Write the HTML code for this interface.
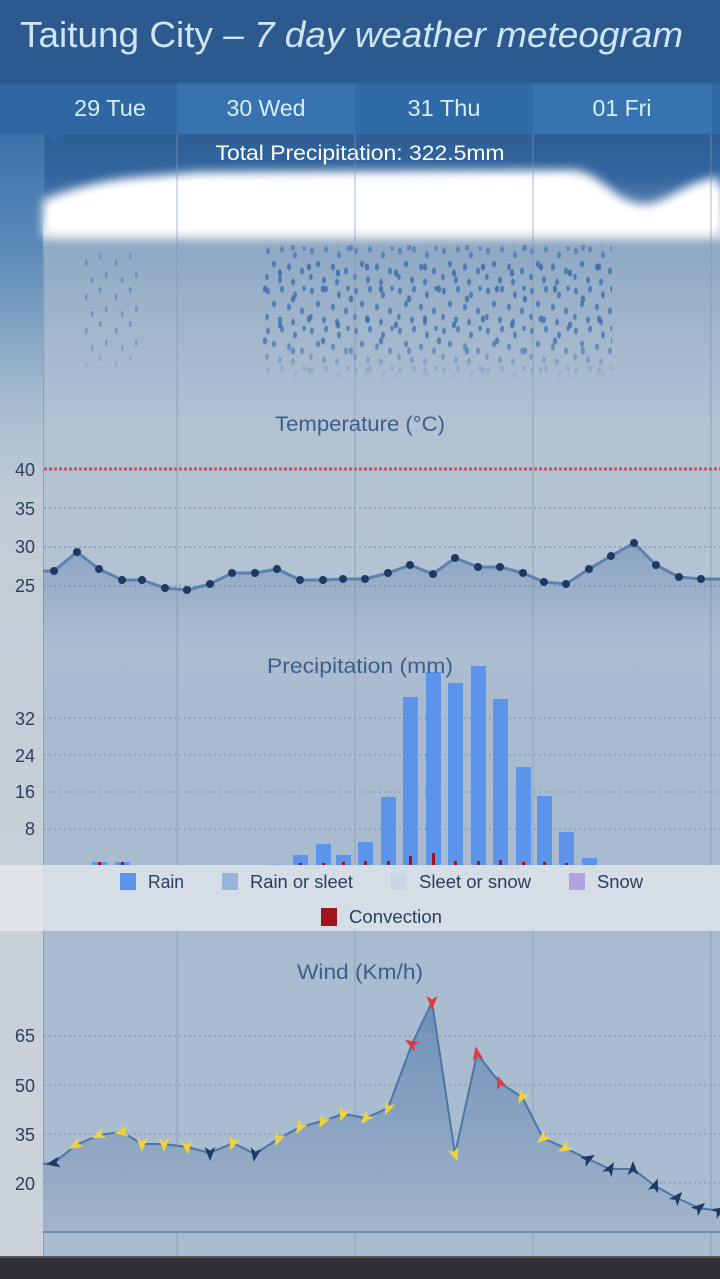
<!DOCTYPE html>
<html><head><meta charset="utf-8"><style>
html,body{margin:0;padding:0;width:720px;height:1279px;overflow:hidden;background:#2e3034}
svg{display:block}
text{font-family:"Liberation Sans",sans-serif}
</style></head><body>
<svg width="720" height="1279" viewBox="0 0 720 1279" xmlns="http://www.w3.org/2000/svg">
<defs>
<linearGradient id="leftcol" x1="0" y1="134" x2="0" y2="1256" gradientUnits="userSpaceOnUse">
<stop offset="0" stop-color="#3a70a8"/><stop offset="0.1" stop-color="#5b8ab8"/><stop offset="0.24" stop-color="#a7bccf"/><stop offset="0.33" stop-color="#c3ccd6"/><stop offset="1" stop-color="#cbd2da"/>
</linearGradient>
<linearGradient id="chartbg" x1="0" y1="134" x2="0" y2="1256" gradientUnits="userSpaceOnUse">
<stop offset="0" stop-color="#2d5e95"/><stop offset="0.04" stop-color="#3466a0"/><stop offset="0.1" stop-color="#8ea8c4"/><stop offset="0.18" stop-color="#a3b7cc"/><stop offset="0.26" stop-color="#b3c2d3"/><stop offset="0.4" stop-color="#b4c3d3"/><stop offset="0.5" stop-color="#a9bbcf"/><stop offset="1" stop-color="#aabcd0"/>
</linearGradient>
<linearGradient id="tempfill" x1="0" y1="540" x2="0" y2="650" gradientUnits="userSpaceOnUse">
<stop offset="0" stop-color="#4f78a8" stop-opacity="0.45"/><stop offset="1" stop-color="#4f78a8" stop-opacity="0"/>
</linearGradient>
<linearGradient id="windfill" x1="0" y1="1000" x2="0" y2="1232" gradientUnits="userSpaceOnUse">
<stop offset="0" stop-color="#6f8fb8"/><stop offset="1" stop-color="#a2b4ca"/>
</linearGradient>
<linearGradient id="cloudshade" x1="0" y1="220" x2="0" y2="252" gradientUnits="userSpaceOnUse">
<stop offset="0" stop-color="#ffffff" stop-opacity="0"/><stop offset="0.5" stop-color="#c9d2dc" stop-opacity="0.8"/><stop offset="1" stop-color="#8ea8c4" stop-opacity="0"/>
</linearGradient>
<filter id="blur" x="-10%" y="-50%" width="120%" height="200%"><feGaussianBlur stdDeviation="5"/></filter>
<filter id="blurs" x="-10%" y="-50%" width="120%" height="200%"><feGaussianBlur stdDeviation="3"/></filter>
<pattern id="drops" x="0" y="246" width="44" height="40" patternUnits="userSpaceOnUse">
<g fill="#3a6fb2">
<ellipse cx="4" cy="5" rx="2" ry="3.5"/><ellipse cx="18" cy="3" rx="2" ry="3.5"/><ellipse cx="31" cy="9" rx="2" ry="3.5"/><ellipse cx="40" cy="2" rx="1.8" ry="3.2"/>
<ellipse cx="10" cy="18" rx="2" ry="3.5"/><ellipse cx="25" cy="21" rx="2" ry="3.5"/><ellipse cx="38" cy="25" rx="2" ry="3.5"/><ellipse cx="3" cy="31" rx="1.8" ry="3.2"/>
<ellipse cx="16" cy="34" rx="2" ry="3.5"/><ellipse cx="29" cy="36" rx="2" ry="3.5"/>
</g>
</pattern>
<pattern id="dropsb" x="13" y="259" width="58" height="52" patternUnits="userSpaceOnUse">
<g fill="#3566a8">
<ellipse cx="6" cy="8" rx="2.2" ry="3.6"/><ellipse cx="35" cy="14" rx="2.2" ry="3.6"/><ellipse cx="20" cy="30" rx="2.2" ry="3.6"/><ellipse cx="48" cy="40" rx="2.2" ry="3.6"/>
</g>
</pattern>
<pattern id="drops2" x="6" y="250" width="30" height="34" patternUnits="userSpaceOnUse">
<g fill="#4a7bb8">
<rect x="3" y="3" width="2.5" height="6" rx="1"/><rect x="19" y="10" width="2.5" height="6" rx="1"/><rect x="9" y="22" width="2.5" height="6" rx="1"/><rect x="25" y="27" width="2.5" height="6" rx="1"/>
</g>
</pattern>
<linearGradient id="rainfade" x1="0" y1="245" x2="0" y2="380" gradientUnits="userSpaceOnUse">
<stop offset="0" stop-color="#fff" stop-opacity="0.6"/><stop offset="0.15" stop-color="#fff" stop-opacity="1"/><stop offset="0.7" stop-color="#fff" stop-opacity="0.9"/><stop offset="1" stop-color="#fff" stop-opacity="0"/>
</linearGradient>
<mask id="rainmask" maskUnits="userSpaceOnUse" x="0" y="230" width="720" height="160">
<rect x="262" y="245" width="350" height="135" fill="url(#rainfade)"/>
<rect x="84" y="250" width="58" height="125" fill="url(#rainfade)" opacity="0.7"/>
</mask>
<path id="arr" d="M0,-8 L5.5,6 L0,2.5 L-5.5,6 Z"/>
</defs>

<!-- header -->
<rect x="0" y="0" width="720" height="82" fill="#2c5a8e"/>
<text x="20" y="47" font-size="36" fill="#cfe5f7" textLength="663" lengthAdjust="spacingAndGlyphs">Taitung City – <tspan font-style="italic">7 day weather meteogram</tspan></text>

<!-- tabs -->
<rect x="0" y="82" width="177" height="52" fill="#2f67a2"/>
<rect x="177" y="82" width="178" height="52" fill="#3873b0"/>
<rect x="355" y="82" width="178" height="52" fill="#2f69a6"/>
<rect x="533" y="82" width="179" height="52" fill="#3773b1"/>
<rect x="712" y="82" width="8" height="52" fill="#2f69a6"/>
<rect x="0" y="82" width="720" height="2" fill="#2a5a90" opacity="0.6"/>
<g font-size="23" fill="#d6efff" text-anchor="middle">
<text x="110" y="116" textLength="72" lengthAdjust="spacingAndGlyphs">29 Tue</text>
<text x="266" y="116" textLength="79" lengthAdjust="spacingAndGlyphs">30 Wed</text>
<text x="444" y="116" textLength="73" lengthAdjust="spacingAndGlyphs">31 Thu</text>
<text x="622" y="116" textLength="59" lengthAdjust="spacingAndGlyphs">01 Fri</text>
</g>

<!-- left column & chart background -->
<rect x="0" y="134" width="43" height="1122" fill="url(#leftcol)"/>
<rect x="43" y="134" width="677" height="1122" fill="url(#chartbg)"/>
<line x1="43.5" y1="134" x2="43.5" y2="1256" stroke="#6f8db0" stroke-width="1" opacity="0.6"/>
<!-- tab notch -->
<polygon points="46,134 62,134 54,142" fill="#2f67a2"/>

<!-- cloud -->
<rect x="43" y="215" width="677" height="40" fill="url(#cloudshade)"/>
<g filter="url(#blur)">
<path d="M43,200 C70,190 100,180 140,177 L200,172 L570,170 C600,170 612,200 640,204 C665,207 680,182 720,177 L720,236 L43,236 Z" fill="#ffffff"/>
</g>
<g filter="url(#blurs)">
<path d="M50,210 C80,200 110,190 150,186 L210,182 L560,180 C590,182 605,210 640,214 C670,216 690,192 720,188 L720,228 L50,228 Z" fill="#ffffff"/>
</g>

<text x="360" y="160" font-size="21" fill="#ffffff" text-anchor="middle" textLength="289" lengthAdjust="spacingAndGlyphs">Total Precipitation: 322.5mm</text>

<!-- rain drops -->
<g mask="url(#rainmask)">
<rect x="262" y="245" width="350" height="135" fill="url(#drops)" opacity="0.8"/>
<rect x="262" y="245" width="350" height="135" fill="url(#dropsb)" opacity="0.8"/>
<rect x="84" y="250" width="58" height="125" fill="url(#drops2)" opacity="0.85"/>
</g>

<!-- vertical day lines -->
<g stroke="#7d95b3" stroke-width="1.2" opacity="0.55">
<line x1="177" y1="134" x2="177" y2="1256"/><line x1="355" y1="134" x2="355" y2="1256"/><line x1="533" y1="134" x2="533" y2="1256"/><line x1="711" y1="134" x2="711" y2="1256"/>
</g>

<!-- Temperature -->
<text x="360" y="431" font-size="21" fill="#3b5f8c" text-anchor="middle" textLength="170" lengthAdjust="spacingAndGlyphs">Temperature (°C)</text>
<g stroke="#8ea3bd" stroke-width="2" stroke-dasharray="2,3">
<line x1="44" y1="508" x2="720" y2="508"/><line x1="44" y1="547" x2="720" y2="547"/><line x1="44" y1="586" x2="720" y2="586"/>
</g>
<line x1="44" y1="469" x2="720" y2="469" stroke="#d0525a" stroke-width="3" stroke-dasharray="3,2"/>
<g font-size="18" fill="#2b3f5c" text-anchor="end">
<text x="35" y="476">40</text><text x="35" y="515">35</text><text x="35" y="553">30</text><text x="35" y="592">25</text>
</g>
<polygon fill="url(#tempfill)" points="43,650 43,571 54,571 77,552 99,569 122,580 142,580 165,588 187,590 210,584 232,573 255,573 277,569 300,580 323,580 343,579 365,579 388,573 410,565 433,574 455,558 478,567 500,567 523,573 544,582 566,584 589,569 611,556 634,543 656,565 679,577 701,579 720,579 720,650"/>
<polyline fill="none" stroke="#5a82b0" stroke-width="3" stroke-linejoin="round" points="43,571 54,571 77,552 99,569 122,580 142,580 165,588 187,590 210,584 232,573 255,573 277,569 300,580 323,580 343,579 365,579 388,573 410,565 433,574 455,558 478,567 500,567 523,573 544,582 566,584 589,569 611,556 634,543 656,565 679,577 701,579 720,579"/>
<g fill="#1d3a64">
<circle cx="54" cy="571" r="4"/><circle cx="77" cy="552" r="4"/><circle cx="99" cy="569" r="4"/><circle cx="122" cy="580" r="4"/><circle cx="142" cy="580" r="4"/><circle cx="165" cy="588" r="4"/><circle cx="187" cy="590" r="4"/><circle cx="210" cy="584" r="4"/><circle cx="232" cy="573" r="4"/><circle cx="255" cy="573" r="4"/><circle cx="277" cy="569" r="4"/><circle cx="300" cy="580" r="4"/><circle cx="323" cy="580" r="4"/><circle cx="343" cy="579" r="4"/><circle cx="365" cy="579" r="4"/><circle cx="388" cy="573" r="4"/><circle cx="410" cy="565" r="4"/><circle cx="433" cy="574" r="4"/><circle cx="455" cy="558" r="4"/><circle cx="478" cy="567" r="4"/><circle cx="500" cy="567" r="4"/><circle cx="523" cy="573" r="4"/><circle cx="544" cy="582" r="4"/><circle cx="566" cy="584" r="4"/><circle cx="589" cy="569" r="4"/><circle cx="611" cy="556" r="4"/><circle cx="634" cy="543" r="4"/><circle cx="656" cy="565" r="4"/><circle cx="679" cy="577" r="4"/><circle cx="701" cy="579" r="4"/>
</g>

<!-- Precipitation -->
<g stroke="#8ea3bd" stroke-width="2" stroke-dasharray="2,3">
<line x1="44" y1="718" x2="720" y2="718"/><line x1="44" y1="755" x2="720" y2="755"/><line x1="44" y1="792" x2="720" y2="792"/><line x1="44" y1="829" x2="720" y2="829"/>
</g>
<g font-size="18" fill="#2b3f5c" text-anchor="end">
<text x="35" y="725">32</text><text x="35" y="762">24</text><text x="35" y="798">16</text><text x="35" y="835">8</text>
</g>
<g fill="#5b94ea">
<rect x="92" y="862" width="15" height="4"/><rect x="115" y="862" width="15" height="4"/>
<rect x="270" y="864" width="15" height="2" fill="#8fb0de"/>
<rect x="293" y="855" width="15" height="11"/><rect x="316" y="844" width="15" height="22"/><rect x="336" y="855" width="15" height="11"/><rect x="358" y="842" width="15" height="24"/>
<rect x="381" y="797" width="15" height="69"/><rect x="403" y="697" width="15" height="169"/><rect x="426" y="672" width="15" height="194"/><rect x="448" y="683" width="15" height="183"/>
<rect x="471" y="666" width="15" height="200"/><rect x="493" y="699" width="15" height="167"/><rect x="516" y="767" width="15" height="99"/><rect x="537" y="796" width="15" height="70"/>
<rect x="559" y="832" width="15" height="34"/><rect x="582" y="858" width="15" height="8"/>
</g>
<g fill="#a0151c">
<rect x="98" y="862" width="3" height="4"/><rect x="121" y="862" width="3" height="4"/>
<rect x="299" y="863" width="3" height="3"/><rect x="322" y="863" width="3" height="3"/><rect x="342" y="862" width="3" height="4"/><rect x="364" y="861" width="3" height="5"/><rect x="387" y="861" width="3" height="5"/>
<rect x="409" y="856" width="3" height="10"/><rect x="432" y="853" width="3" height="13"/><rect x="454" y="861" width="3" height="5"/><rect x="477" y="861" width="3" height="5"/><rect x="499" y="860" width="3" height="6"/>
<rect x="522" y="862" width="3" height="4"/><rect x="543" y="862" width="3" height="4"/><rect x="565" y="863" width="3" height="3"/>
</g>
<text x="360" y="673" font-size="21" fill="#3b5f8c" text-anchor="middle" textLength="186" lengthAdjust="spacingAndGlyphs">Precipitation (mm)</text>

<!-- Legend -->
<rect x="0" y="865" width="43" height="66" fill="#e1e5ea"/>
<rect x="43" y="865" width="677" height="66" fill="#d5dde6"/>
<rect x="120" y="873" width="16" height="17" fill="#5b94ea"/>
<rect x="222" y="873" width="16" height="17" fill="#97b4d8"/>
<rect x="391" y="873" width="16" height="17" fill="#c9d5e5"/>
<rect x="569" y="873" width="16" height="17" fill="#b3a2e0"/>
<rect x="321" y="908" width="16" height="18" fill="#a0151c"/>
<g font-size="18" fill="#2b3f5c">
<text x="148" y="888" textLength="36" lengthAdjust="spacingAndGlyphs">Rain</text>
<text x="250" y="888" textLength="103" lengthAdjust="spacingAndGlyphs">Rain or sleet</text>
<text x="419" y="888" textLength="112" lengthAdjust="spacingAndGlyphs">Sleet or snow</text>
<text x="597" y="888" textLength="46" lengthAdjust="spacingAndGlyphs">Snow</text>
<text x="349" y="923" textLength="93" lengthAdjust="spacingAndGlyphs">Convection</text>
</g>

<!-- Wind -->
<text x="360" y="979" font-size="21" fill="#3b5f8c" text-anchor="middle" textLength="126" lengthAdjust="spacingAndGlyphs">Wind (Km/h)</text>
<polygon fill="url(#windfill)" points="43,1232 43,1164 54,1163 76,1145 99,1135 122,1132 142,1144 164,1144 187,1147 210,1153 233,1143 255,1154 278,1139 300,1127 323,1121 343,1114 366,1118 388,1108 412,1044 432,1002 455,1154 477,1054 500,1083 522,1097 543,1138 565,1148 588,1159 610,1169 633,1169 655,1186 677,1198 699,1208 720,1211 720,1232"/>
<g stroke="#8ea3bd" stroke-width="2" stroke-dasharray="2,3" opacity="0.9">
<line x1="44" y1="1036" x2="720" y2="1036"/><line x1="44" y1="1085" x2="720" y2="1085"/><line x1="44" y1="1134" x2="720" y2="1134"/><line x1="44" y1="1183" x2="720" y2="1183"/>
</g>
<g font-size="18" fill="#2b3f5c" text-anchor="end">
<text x="35" y="1042">65</text><text x="35" y="1092">50</text><text x="35" y="1141">35</text><text x="35" y="1190">20</text>
</g>
<polyline fill="none" stroke="#4a76a8" stroke-width="2" stroke-linejoin="round" points="43,1164 54,1163 76,1145 99,1135 122,1132 142,1144 164,1144 187,1147 210,1153 233,1143 255,1154 278,1139 300,1127 323,1121 343,1114 366,1118 388,1108 412,1044 432,1002 455,1154 477,1054 500,1083 522,1097 543,1138 565,1148 588,1159 610,1169 633,1169 655,1186 677,1198 699,1208 720,1211"/>
<line x1="43" y1="1232" x2="720" y2="1232" stroke="#6e8eb5" stroke-width="2"/>
<!-- wind arrows -->
<g>
<use href="#arr" fill="#1d3a66" transform="translate(54,1163) rotate(-100)"/>
<use href="#arr" fill="#f0d23a" transform="translate(76,1145) rotate(-120)"/>
<use href="#arr" fill="#f0d23a" transform="translate(99,1135) rotate(-110)"/>
<use href="#arr" fill="#f0d23a" transform="translate(122,1132) rotate(-100)"/>
<use href="#arr" fill="#f0d23a" transform="translate(142,1144) rotate(180)"/>
<use href="#arr" fill="#f0d23a" transform="translate(164,1144) rotate(180)"/>
<use href="#arr" fill="#f0d23a" transform="translate(187,1147) rotate(175)"/>
<use href="#arr" fill="#1d3a66" transform="translate(210,1153) rotate(180)"/>
<use href="#arr" fill="#f0d23a" transform="translate(233,1143) rotate(200)"/>
<use href="#arr" fill="#1d3a66" transform="translate(255,1154) rotate(190)"/>
<use href="#arr" fill="#f0d23a" transform="translate(278,1139) rotate(200)"/>
<use href="#arr" fill="#f0d23a" transform="translate(300,1127) rotate(210)"/>
<use href="#arr" fill="#f0d23a" transform="translate(323,1121) rotate(210)"/>
<use href="#arr" fill="#f0d23a" transform="translate(343,1114) rotate(200)"/>
<use href="#arr" fill="#f0d23a" transform="translate(366,1118) rotate(220)"/>
<use href="#arr" fill="#f0d23a" transform="translate(388,1108) rotate(200)"/>
<use href="#arr" fill="#e03a40" transform="translate(412,1044) rotate(-60)"/>
<use href="#arr" fill="#e03a40" transform="translate(432,1002) rotate(180)"/>
<use href="#arr" fill="#f0d23a" transform="translate(455,1154) rotate(160)"/>
<use href="#arr" fill="#e03a40" transform="translate(477,1054) rotate(-10)"/>
<use href="#arr" fill="#e03a40" transform="translate(500,1083) rotate(-20)"/>
<use href="#arr" fill="#f0d23a" transform="translate(522,1097) rotate(-150)"/>
<use href="#arr" fill="#f0d23a" transform="translate(543,1138) rotate(-130)"/>
<use href="#arr" fill="#f0d23a" transform="translate(565,1148) rotate(-120)"/>
<use href="#arr" fill="#1d3a66" transform="translate(588,1159) rotate(60)"/>
<use href="#arr" fill="#1d3a66" transform="translate(610,1169) rotate(30)"/>
<use href="#arr" fill="#1d3a66" transform="translate(633,1169) rotate(0)"/>
<use href="#arr" fill="#1d3a66" transform="translate(655,1186) rotate(20)"/>
<use href="#arr" fill="#1d3a66" transform="translate(677,1198) rotate(40)"/>
<use href="#arr" fill="#1d3a66" transform="translate(699,1208) rotate(50)"/>
<use href="#arr" fill="#1d3a66" transform="translate(719,1211) rotate(60)"/>
</g>

<!-- bottom bar -->
<rect x="0" y="1256" width="720" height="23" fill="#2e3034"/>
<rect x="0" y="1256" width="720" height="2" fill="#55595f"/>
</svg>
</body></html>
